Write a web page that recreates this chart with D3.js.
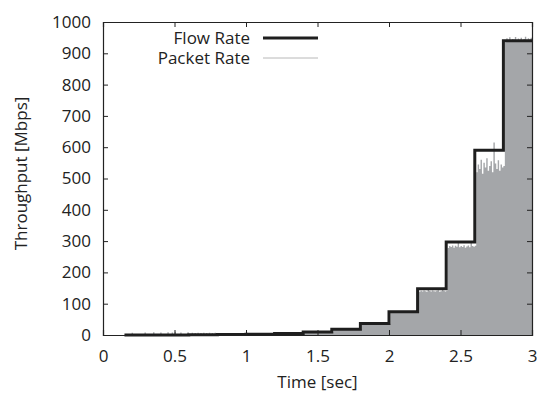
<!DOCTYPE html>
<html>
<head>
<meta charset="utf-8">
<script src="https://cdn.jsdelivr.net/npm/d3@7"></script>
<style>
  body { margin: 0; background: #fff; }
  svg text { font-family: "Open Sans", sans-serif; fill: #222; }
</style>
</head>
<body>
<div id="chart"></div>
<script>
// x ticks and y ticks
const xTicks = [0, 0.5, 1, 1.5, 2, 2.5, 3];
const yTicks = [0, 100, 200, 300, 400, 500, 600, 700, 800, 900, 1000];

// flow rate: step edges (sec) and value held from each edge
const flowTimes = [0.15, 0.4, 0.6, 0.8, 1.0, 1.2, 1.4, 1.6, 1.8, 2.0, 2.2, 2.4, 2.6, 2.8, 3.0];
const flowValues = [0.15, 0.3, 0.6, 1.2, 2.3, 4.6, 9.3, 18.5, 37, 74, 148, 297, 590, 940];

// packet rate, one sample every 10 ms starting at 0.15 s
const packetStart = 0.15;
const packetStep = 0.01;
const packetValues = [
  0.1, 0.2, 0.1, 0.2, 0.1,
  7, 0.1, 0.2, 0.1, 0.2, 0.1, 0.2, 0.1, 0.2, 8,
  0.1, 0.2, 0.1, 0.2, 0.1, 9, 0.2, 0.1, 0.2, 0.1,
  8, 0.3, 0.2, 0.3, 0.2, 9, 0.3, 0.2, 8, 0.3,
  10, 0.3, 0.2, 0.3, 8, 0.3, 0.2, 0.3, 0.2, 9,
  0.6, 0.5, 7, 0.6, 6, 0.5, 7, 0.6, 6, 0.5,
  7, 0.6, 6, 0.5, 7, 0.6, 6, 0.5, 7, 0.6,
  1.1, 1.2, 1.1, 1.2, 5, 1.1, 1.2, 1.1, 1.2, 1.1,
  1.2, 1.1, 1.2, 5, 1.1, 1.2, 1.1, 1.2, 1.1, 1.2,
  8, 2.2, 2.3, 2.2, 2.3, 2.2, 2.3, 2.2, 2.3, 2.2,
  2.3, 2.2, 2.3, 2.2, 2.3, 2.2, 2.3, 2.2, 2.3, 2.2,
  2.3, 4.4, 4.5, 4.4, 4.6, 4.5, 4.4, 4.5, 4.6, 4.4,
  4.5, 4.4, 4.6, 4.5, 4.4, 4.5, 4.6, 4.4, 4.5, 4.4,
  4.5, 8.8, 9.0, 8.9, 9.1, 8.8, 9.0, 8.9, 9.1, 8.8,
  9.0, 8.9, 9.1, 8.8, 9.0, 8.9, 9.1, 8.8, 9.0, 8.9,
  9, 17.5, 17.9, 17.6, 18.0, 17.4, 17.8, 17.5, 18.1, 17.6,
  17.9, 17.5, 17.8, 17.6, 18.0, 17.4, 17.9, 17.6, 17.8, 17.5,
  18, 35, 36, 35.4, 36.2, 35.1, 35.8, 35.3, 36.1, 35.5,
  35.9, 35.2, 36, 35.4, 35.8, 35.1, 36.2, 35.6, 35.9, 35.3,
  36, 70, 72, 71, 72.5, 70.4, 71.8, 70.9, 72.3, 71.2,
  71.9, 70.6, 72.1, 71.3, 72.4, 70.8, 71.6, 72.2, 70.7, 71.5,
  72, 138, 141, 139, 142, 140, 138, 146, 141, 139,
  142, 140, 139, 141, 143, 138, 140, 147, 141, 139,
  141, 278, 284, 281, 286, 279, 285, 282, 296, 280,
  284, 281, 287, 279, 283, 286, 280, 300, 284, 282,
  285, 520, 545, 530, 560, 515, 550, 535, 565, 525,
  540, 555, 520, 615, 548, 530, 558, 525, 545, 535,
  540, 935, 948, 942, 951, 938, 946, 944, 952, 940,
  947, 943, 950, 939, 946, 953, 941, 948, 944, 950
];

const width = 537;
const height = 394;
const margin = { top: 22, right: 5, bottom: 59, left: 103 };
const innerWidth = width - margin.left - margin.right;
const innerHeight = height - margin.top - margin.bottom;

const svg = d3.select('#chart')
  .append('svg')
  .attr('width', width)
  .attr('height', height);

const g = svg.append('g')
  .attr('transform', `translate(${margin.left},${margin.top})`);

const x = d3.scaleLinear().domain([0, 3]).range([0, innerWidth]);
const y = d3.scaleLinear().domain([0, 1000]).range([innerHeight, 0]);

// packet rate area
const packets = packetValues.map((v, i) => [packetStart + i * packetStep, v]);
packets.push([3.0, packetValues[packetValues.length - 1]]);

g.append('path')
  .datum(packets)
  .attr('fill', '#a4a6a9')
  .attr('stroke', 'none')
  .attr('d', d3.area()
    .curve(d3.curveStepAfter)
    .x(d => x(d[0]))
    .y0(y(0))
    .y1(d => y(d[1])));

// flow rate step line
const flow = flowValues.map((v, i) => [flowTimes[i], v]);
flow.push([flowTimes[flowTimes.length - 1], flowValues[flowValues.length - 1]]);

g.append('path')
  .datum(flow)
  .attr('fill', 'none')
  .attr('stroke', '#1e1e1e')
  .attr('stroke-width', 3)
  .attr('d', d3.line()
    .curve(d3.curveStepAfter)
    .x(d => x(d[0]))
    .y(d => y(d[1])));

// axes, gnuplot style with mirrored inward ticks
const tickLen = 5;
const fontSize = 17;

const xAxis = g.append('g')
  .attr('transform', `translate(0,${innerHeight})`)
  .call(d3.axisBottom(x).tickValues(xTicks).tickSize(-tickLen).tickPadding(tickLen + 10).tickFormat(d3.format('~g')));
const xAxisTop = g.append('g')
  .call(d3.axisTop(x).tickValues(xTicks).tickSize(-tickLen));
const yAxis = g.append('g')
  .call(d3.axisLeft(y).tickValues(yTicks).tickSize(-tickLen).tickPadding(tickLen + 7).tickFormat(d3.format('d')));
const yAxisRight = g.append('g')
  .attr('transform', `translate(${innerWidth},0)`)
  .call(d3.axisRight(y).tickValues(yTicks).tickSize(-tickLen));

// mirrored axes carry ticks only
xAxisTop.selectAll('.tick text').remove();
yAxisRight.selectAll('.tick text').remove();

[xAxis, xAxisTop, yAxis, yAxisRight].forEach(a => {
  a.select('.domain').attr('stroke', '#222').attr('stroke-width', 1.2);
  a.selectAll('.tick line').attr('stroke', '#222');
  a.selectAll('.tick text').attr('font-size', fontSize).attr('fill', '#222')
    .style('font-family', '"Open Sans", sans-serif');
});

// axis titles
svg.append('text')
  .attr('x', margin.left + innerWidth / 2)
  .attr('y', 388)
  .attr('text-anchor', 'middle')
  .attr('font-size', fontSize)
  .text('Time [sec]');

svg.append('text')
  .attr('transform', `translate(27,${margin.top + innerHeight / 2 - 5}) rotate(-90)`)
  .attr('text-anchor', 'middle')
  .attr('font-size', fontSize)
  .text('Throughput [Mbps]');

// legend
const legend = [
  { label: 'Flow Rate', color: '#1e1e1e', w: 3 },
  { label: 'Packet Rate', color: '#b8b8b8', w: 1 }
];
legend.forEach((d, i) => {
  const ly = 38 + i * 20;
  svg.append('text')
    .attr('x', 250)
    .attr('y', ly + 6)
    .attr('text-anchor', 'end')
    .attr('font-size', fontSize)
    .text(d.label);
  svg.append('line')
    .attr('x1', 263).attr('x2', 318)
    .attr('y1', ly).attr('y2', ly)
    .attr('stroke', d.color)
    .attr('stroke-width', d.w);
});
</script>
</body>
</html>
